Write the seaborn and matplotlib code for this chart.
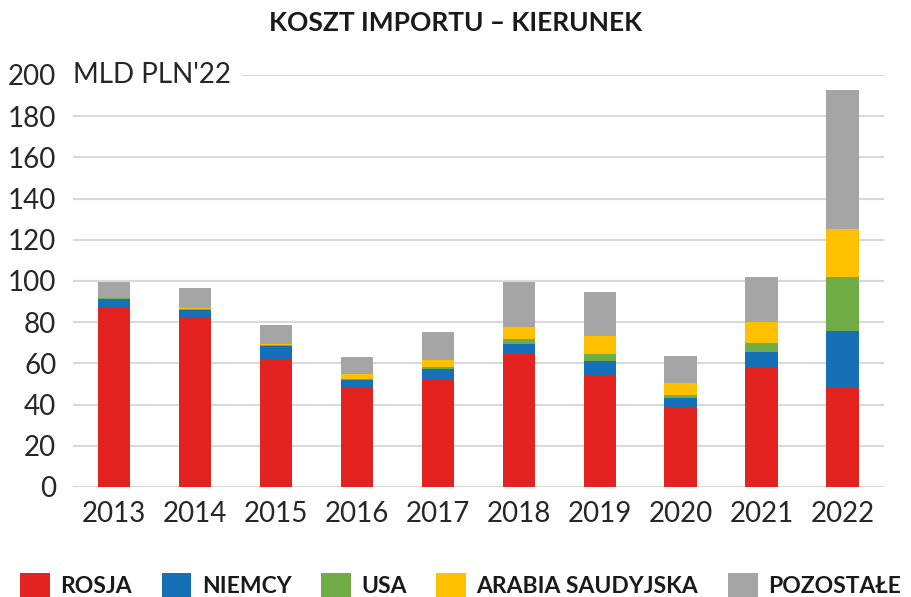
import numpy as np
import pandas as pd
import matplotlib
matplotlib.use("Agg")
import matplotlib.pyplot as plt
import matplotlib.transforms as mtransforms
from matplotlib.patches import Patch
import seaborn as sns

years = ["2013", "2014", "2015", "2016", "2017", "2018", "2019", "2020", "2021", "2022"]
rosja = [87.5, 82.2, 61.7, 47.9, 52.0, 64.4, 54.4, 38.5, 57.9, 48.7]
niemcy = [3.6, 3.8, 6.7, 4.0, 5.4, 5.0, 6.8, 4.7, 7.8, 27.0]
usa = [0.4, 0.4, 0.3, 0.3, 1.0, 2.4, 3.4, 1.5, 4.4, 26.1]
arabia = [0.3, 0.3, 0.7, 2.8, 3.3, 5.7, 8.7, 5.6, 9.9, 23.4]
pozostale = [7.6, 9.7, 9.2, 8.1, 13.4, 21.9, 21.5, 13.5, 21.8, 67.5]

series_names = ["ROSJA", "NIEMCY", "USA", "ARABIA SAUDYJSKA", "POZOSTAŁE"]
series_vals = [rosja, niemcy, usa, arabia, pozostale]
colors = ["#E42320", "#1570B8", "#70AD47", "#FFC000", "#A5A5A5"]

sns.set_theme(style="white")
plt.rcParams["font.family"] = ["Lato", "DejaVu Sans"]

fig = plt.figure(figsize=(9.12, 5.97), dpi=100)
ax = fig.add_axes([0.080, 0.1843, 0.889, 0.6901])

cum = np.cumsum(np.array(series_vals), axis=0)
df = pd.DataFrame({"year": years})
for i in range(len(series_names) - 1, -1, -1):
    df["v"] = cum[i]
    sns.barplot(data=df, x="year", y="v", order=years, color=colors[i],
                width=0.4, errorbar=None, saturation=1, linewidth=0, ax=ax)

ax.set_ylim(0, 200)
ax.set_xlim(-0.51, 9.51)
ax.set_yticks(range(0, 201, 20))
ax.set_xlabel("")
ax.set_ylabel("")
ax.grid(axis="y", color="#d9d9d9", linewidth=1.5)
ax.set_axisbelow(True)
for s in ax.spines.values():
    s.set_visible(False)
ax.tick_params(axis="y", length=0, pad=12, labelsize=20, labelcolor="#262626")
ax.tick_params(axis="x", length=0, pad=10, labelsize=20, labelcolor="#262626")

trans = mtransforms.blended_transform_factory(ax.transAxes, ax.transData)
ax.text(0.0, 200, "MLD PLN'22 ", transform=trans, ha="left", va="center",
        fontsize=20, color="#262626",
        bbox=dict(facecolor="white", edgecolor="none", pad=3))

fig.text(0.5, 0.962, "KOSZT IMPORTU – KIERUNEK", ha="center", va="center",
         fontsize=19, fontweight="bold", color="#1a1a1a")

handles = [Patch(facecolor=c, edgecolor="none") for c in colors]
fig.legend(handles, series_names, loc="center", bbox_to_anchor=(0.505, 0.02),
           ncol=5, frameon=False, prop={"size": 16.5, "weight": "bold"},
           labelcolor="#1a1a1a", handlelength=1.3, handleheight=1.3,
           handletextpad=0.45, columnspacing=1.3)

fig.savefig("out.png", dpi=100)
